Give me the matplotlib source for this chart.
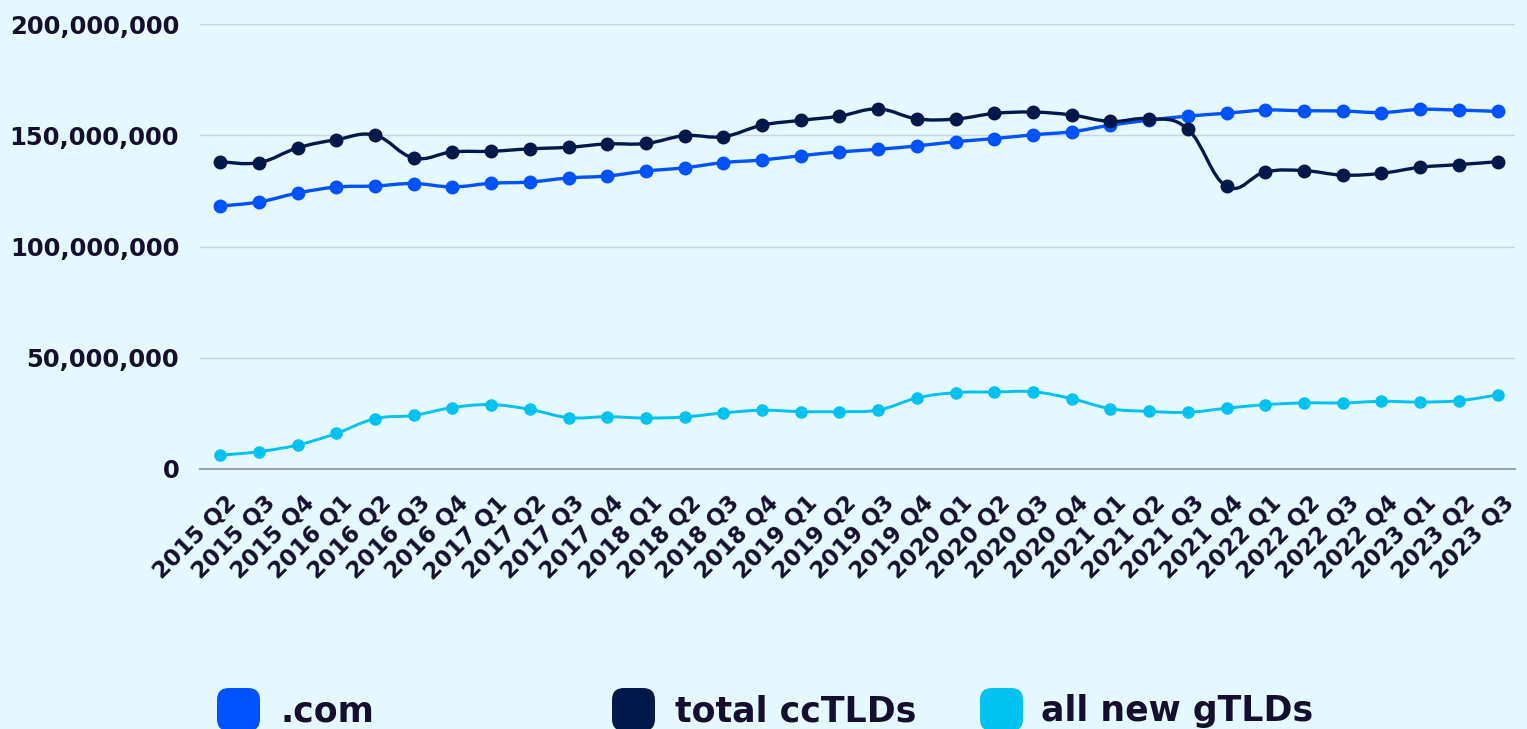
import numpy as np
import matplotlib.pyplot as plt
from matplotlib.path import Path
from matplotlib.patches import PathPatch, FancyBboxPatch
from matplotlib.transforms import ScaledTranslation, IdentityTransform

quarters = ["2015 Q2", "2015 Q3", "2015 Q4",
            "2016 Q1", "2016 Q2", "2016 Q3", "2016 Q4",
            "2017 Q1", "2017 Q2", "2017 Q3", "2017 Q4",
            "2018 Q1", "2018 Q2", "2018 Q3", "2018 Q4",
            "2019 Q1", "2019 Q2", "2019 Q3", "2019 Q4",
            "2020 Q1", "2020 Q2", "2020 Q3", "2020 Q4",
            "2021 Q1", "2021 Q2", "2021 Q3", "2021 Q4",
            "2022 Q1", "2022 Q2", "2022 Q3", "2022 Q4",
            "2023 Q1", "2023 Q2", "2023 Q3"]

# values in millions of domains
com = [118.2, 120.0, 124.0, 126.7, 127.2, 128.3, 126.8, 128.4, 129.0, 130.8,
       131.7, 133.9, 135.4, 137.7, 138.9, 140.8, 142.5, 143.7, 145.2, 147.1,
       148.5, 150.2, 151.6, 154.5, 156.8, 158.6, 159.9, 161.3, 161.0, 160.9,
       160.2, 161.6, 161.3, 160.7]
cctld = [138.1, 137.7, 144.3, 148.0, 150.0, 139.8, 142.5, 142.8, 143.9, 144.6,
         146.1, 146.3, 149.8, 149.4, 154.5, 156.7, 158.6, 161.8, 157.4, 157.3,
         159.8, 160.4, 159.1, 156.2, 157.4, 152.7, 127.0, 133.5, 134.1, 132.1,
         132.9, 135.6, 136.8, 138.1]
gtld = [6.2, 7.8, 10.8, 16.0, 22.6, 24.1, 27.6, 28.9, 26.8, 23.1,
        23.5, 22.9, 23.4, 25.2, 26.4, 25.8, 25.8, 26.5, 31.9, 34.3,
        34.6, 34.7, 31.6, 27.1, 25.9, 25.5, 27.3, 28.9, 29.7, 29.7,
        30.4, 30.1, 30.7, 33.3]

series = [(".com", com, "#0052ff"),
          ("total ccTLDs", cctld, "#00184a"),
          ("all new gTLDs", gtld, "#00c2f0")]

bg = "#e5f8ff"
txt = "#150f2f"

plt.rcParams["font.family"] = ["DejaVu Sans"]


def smooth_path(xs, ys, t=0.2):
    # cubic bezier through every point, like a chart.js tension curve
    n = len(xs)
    verts = [(xs[0], ys[0])]
    codes = [Path.MOVETO]
    for i in range(n - 1):
        a = max(i - 1, 0)
        b = min(i + 2, n - 1)
        c1 = (xs[i] + t * (xs[i + 1] - xs[a]), ys[i] + t * (ys[i + 1] - ys[a]))
        c2 = (xs[i + 1] - t * (xs[b] - xs[i]), ys[i + 1] - t * (ys[b] - ys[i]))
        verts += [c1, c2, (xs[i + 1], ys[i + 1])]
        codes += [Path.CURVE4] * 3
    return Path(verts, codes)


fig = plt.figure(figsize=(15.27, 7.29), dpi=100, facecolor=bg)
ax = fig.add_axes([200 / 1527, 1 - 469 / 729, 1315 / 1527, 445 / 729])
ax.set_facecolor(bg)

x = np.arange(len(quarters))
for name, vals, col in series:
    y = np.array(vals) * 1e6
    lw = 2.1 if name == "all new gTLDs" else 2.4
    ms = 8 if name == "all new gTLDs" else 9
    ax.add_patch(PathPatch(smooth_path(x, y), facecolor="none", edgecolor=col,
                           lw=lw, zorder=3))
    ax.plot(x, y, linestyle="none", marker="o", ms=ms, color=col, zorder=4)

ax.set_xlim(-0.52, 33.45)
ax.set_ylim(0, 200e6)
ax.set_yticks(np.arange(0, 200e6 + 1, 50e6))
ax.yaxis.set_major_formatter(plt.FuncFormatter(lambda v, p: f"{int(v):,}"))
ax.grid(axis="y", color="#c9d6de", lw=1)
ax.set_axisbelow(True)
for s in ["top", "right", "left"]:
    ax.spines[s].set_visible(False)
ax.spines["bottom"].set_color("#9ba1b5")
ax.spines["bottom"].set_linewidth(1.5)

ax.tick_params(axis="y", length=0, pad=15, labelsize=17.5, labelcolor=txt)
for lab in ax.get_yticklabels():
    lab.set_fontweight("bold")

ax.set_xticks(x)
ax.set_xticklabels(quarters, rotation=45, ha="right", va="center",
                   rotation_mode="anchor", fontsize=16.5, fontweight="bold",
                   color=txt)
ax.tick_params(axis="x", length=0, pad=0)
off = ScaledTranslation(0.13, -0.31, fig.dpi_scale_trans)
for lab in ax.get_xticklabels():
    lab.set_transform(lab.get_transform() + off)

# legend drawn by hand, pixel positions
legend_pos = [(217, 280), (612, 675), (980, 1041)]
for (name, vals, col), (bx, tx) in zip(series, legend_pos):
    fig.patches.append(FancyBboxPatch((bx, -2), 43, 43,
                                      boxstyle="round,pad=0,rounding_size=12",
                                      facecolor=col, edgecolor="none",
                                      transform=IdentityTransform()))
    fig.text(tx, 8, name, transform=IdentityTransform(), fontsize=25,
             fontweight="bold", color=txt, va="baseline", ha="left")

plt.savefig("out.png", dpi=100, facecolor=bg)
plt.close()
